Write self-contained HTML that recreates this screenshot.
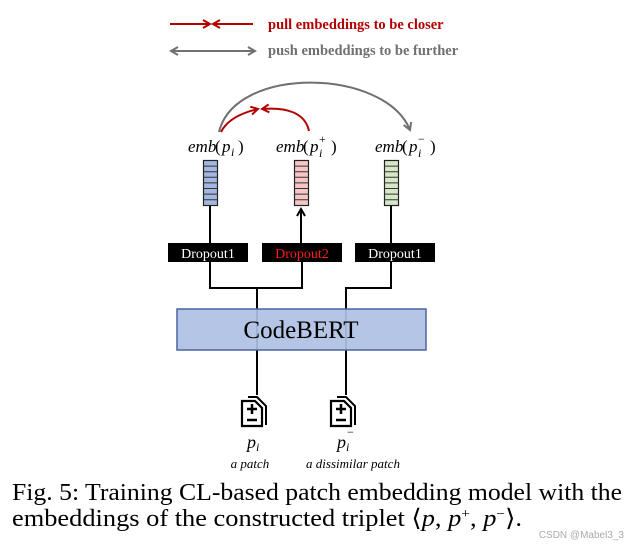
<!DOCTYPE html>
<html><head><meta charset="utf-8"><style>
html,body{margin:0;padding:0;background:#fff;}
svg{display:block;}
</style></head><body>
<svg width="636" height="548" viewBox="0 0 636 548" xmlns="http://www.w3.org/2000/svg">
<defs>
<marker id="ar" markerWidth="10" markerHeight="10" refX="8" refY="5" orient="auto" markerUnits="userSpaceOnUse"><path d="M1,1 L8,5 L1,9" fill="none" stroke="#b30000" stroke-width="2"/></marker>
<marker id="ag" markerWidth="10" markerHeight="10" refX="8" refY="5" orient="auto" markerUnits="userSpaceOnUse"><path d="M1,1 L8,5 L1,9" fill="none" stroke="#707070" stroke-width="2"/></marker>
<marker id="ab" markerWidth="10" markerHeight="10" refX="8" refY="5" orient="auto" markerUnits="userSpaceOnUse"><path d="M1,1 L8,5 L1,9" fill="none" stroke="#000" stroke-width="2"/></marker>
<marker id="agb" markerWidth="10" markerHeight="10" refX="2" refY="5" orient="auto" markerUnits="userSpaceOnUse"><path d="M9,1 L2,5 L9,9" fill="none" stroke="#707070" stroke-width="2"/></marker>
</defs>
<line x1="170" y1="24" x2="210" y2="24" stroke="#b30000" stroke-width="2" marker-end="url(#ar)"/>
<line x1="253" y1="24" x2="213" y2="24" stroke="#b30000" stroke-width="2" marker-end="url(#ar)"/>
<text x="268" y="29" font-family="Liberation Serif, serif" font-weight="bold" font-size="14.5" fill="#b30000">pull embeddings to be closer</text>
<line x1="171" y1="51" x2="255" y2="51" stroke="#707070" stroke-width="2" marker-start="url(#agb)" marker-end="url(#ag)"/>
<text x="268" y="55" font-family="Liberation Serif, serif" font-weight="bold" font-size="14.5" fill="#707070">push embeddings to be further</text>
<path d="M219,132 C235,65 385,68 410,130" fill="none" stroke="#707070" stroke-width="2" marker-end="url(#ag)"/>
<path d="M221,132 C228,118 245,112 258,109" fill="none" stroke="#b30000" stroke-width="2" marker-end="url(#ar)"/>
<path d="M309,131 C305,112 285,107 262,109" fill="none" stroke="#b30000" stroke-width="2" marker-end="url(#ar)"/>
<g font-family="Liberation Serif, serif" font-style="italic" font-size="17" fill="#000">
<text x="188" y="152">emb</text><text x="215" y="152" font-style="normal">(</text><text x="222" y="152">p</text><text x="231" y="156" font-size="12">i</text><text x="238" y="152" font-style="normal">)</text>
<text x="276" y="152">emb</text><text x="303" y="152" font-style="normal">(</text><text x="310" y="152">p</text><text x="319" y="157" font-size="12">i</text><text x="319" y="143" font-size="12" font-style="normal">+</text><text x="331" y="152" font-style="normal">)</text>
<text x="375" y="152">emb</text><text x="402" y="152" font-style="normal">(</text><text x="409" y="152">p</text><text x="418" y="157" font-size="12">i</text><text x="418" y="143" font-size="12" font-style="normal">−</text><text x="430" y="152" font-style="normal">)</text>
</g>
<g stroke="#222" stroke-width="1.2">
<rect x="203.5" y="160.5" width="14" height="45" fill="#a3b7e0"/>
<rect x="294.5" y="160.5" width="14" height="45" fill="#f6c6c6"/>
<rect x="384.5" y="160.5" width="14" height="45" fill="#d6e8c6"/>
<path d="M203.5,166.1h14M203.5,171.7h14M203.5,177.3h14M203.5,182.9h14M203.5,188.5h14M203.5,194.1h14M203.5,199.7h14
M294.5,166.1h14M294.5,171.7h14M294.5,177.3h14M294.5,182.9h14M294.5,188.5h14M294.5,194.1h14M294.5,199.7h14
M384.5,166.1h14M384.5,171.7h14M384.5,177.3h14M384.5,182.9h14M384.5,188.5h14M384.5,194.1h14M384.5,199.7h14" fill="none" stroke="#333" stroke-width="1"/>
</g>
<g stroke="#000" stroke-width="2" fill="none">
<line x1="210" y1="206" x2="210" y2="243"/>
<line x1="301" y1="243" x2="301" y2="209" marker-end="url(#ab)"/>
<line x1="391" y1="206" x2="391" y2="243"/>
<path d="M210,262 V288 H302 V262"/>
<path d="M391,262 V288 H346 V395"/>
<line x1="257" y1="288" x2="257" y2="395"/>
</g>
<rect x="168" y="243" width="80" height="19" fill="#000"/>
<rect x="262" y="243" width="80" height="19" fill="#000"/>
<rect x="355" y="243" width="80" height="19" fill="#000"/>
<g font-family="Liberation Serif, serif" font-size="14" text-anchor="middle">
<text x="208" y="258" fill="#fff">Dropout1</text>
<text x="302" y="258" fill="#ff1a1a">Dropout2</text>
<text x="395" y="258" fill="#fff">Dropout1</text>
</g>
<rect x="177" y="309" width="249" height="41" fill="#aec0e3" fill-opacity="0.92" stroke="#4a64a0" stroke-width="1.5"/>
<text x="301" y="338" font-family="Liberation Serif, serif" font-size="25" text-anchor="middle">CodeBERT</text>
<g stroke="#000" fill="none" stroke-width="2">
<g transform="translate(242,397)">
<path d="M6,0 H15 L24,9 V28" />
<path d="M0,4 H13 L20,11 V29 H0 Z" fill="#fff" stroke-width="2.2"/>
<path d="M5,12 H15 M10,7 V17" stroke-width="2.5"/>
<path d="M5,23 H15" stroke-width="2.5"/>
</g>
<g transform="translate(331,397)">
<path d="M6,0 H15 L24,9 V28" />
<path d="M0,4 H13 L20,11 V29 H0 Z" fill="#fff" stroke-width="2.2"/>
<path d="M5,12 H15 M10,7 V17" stroke-width="2.5"/>
<path d="M5,23 H15" stroke-width="2.5"/>
</g>
</g>
<g font-family="Liberation Serif, serif" font-style="italic" fill="#000">
<text x="247" y="448" font-size="18">p</text><text x="256" y="451" font-size="12">i</text>
<text x="337" y="448" font-size="18">p</text><text x="346" y="451" font-size="12">i</text><text x="347" y="436" font-size="12" font-style="normal">−</text>
<text x="250" y="468" font-size="13" text-anchor="middle">a patch</text>
<text x="353" y="468" font-size="13" text-anchor="middle">a dissimilar patch</text>
</g>
<g font-family="Liberation Serif, serif" font-size="24" fill="#000">
<text x="12" y="500" textLength="610" lengthAdjust="spacingAndGlyphs">Fig. 5: Training CL-based patch embedding model with the</text>
<text x="12" y="526" textLength="510" lengthAdjust="spacingAndGlyphs">embeddings of the constructed triplet ⟨<tspan font-style="italic">p</tspan>, <tspan font-style="italic">p</tspan><tspan font-size="14" dy="-8">+</tspan><tspan dy="8">, </tspan><tspan font-style="italic">p</tspan><tspan font-size="14" dy="-8">−</tspan><tspan dy="8">⟩.</tspan></text>
</g>
<text x="624" y="538" font-family="Liberation Sans, sans-serif" font-size="10" fill="#aaa" text-anchor="end">CSDN @Mabel3_3</text>
</svg>
</body></html>
